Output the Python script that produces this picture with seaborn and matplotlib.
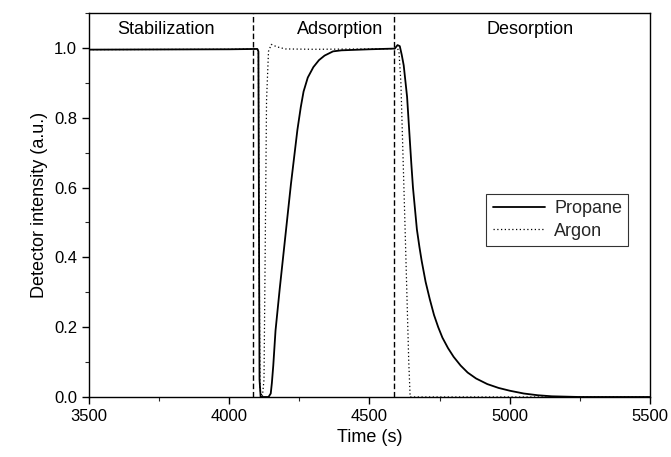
import pandas as pd
import seaborn as sns
import matplotlib.pyplot as plt
from matplotlib.ticker import MultipleLocator

# values
propane_time = [3500, 4000, 4100, 4104, 4106, 4108, 4112, 4125, 4140, 4148, 4152, 4157, 4165,
                4180, 4200, 4220, 4243, 4255, 4265, 4280, 4300, 4320, 4340, 4370, 4400, 4500,
                4590, 4600, 4608, 4615, 4622, 4634, 4649, 4655, 4662, 4669, 4678, 4686, 4700,
                4715, 4730, 4745, 4760, 4780, 4800, 4825, 4850, 4880, 4920, 4960, 5000, 5050,
                5100, 5150, 5250, 5500]
propane_signal = [0.995, 0.996, 0.997, 0.99, 0.5, 0.05, 0.0, 0.0, 0.0, 0.01, 0.04, 0.09, 0.19,
                  0.31, 0.46, 0.61, 0.765, 0.83, 0.875, 0.915, 0.945, 0.965, 0.978, 0.99, 0.993,
                  0.996, 0.998, 1.008, 1.005, 0.98, 0.95, 0.86, 0.67, 0.6, 0.54, 0.48, 0.43, 0.39,
                  0.33, 0.28, 0.235, 0.2, 0.17, 0.14, 0.115, 0.09, 0.07, 0.053, 0.037, 0.026,
                  0.018, 0.01, 0.005, 0.002, 0.0, 0.0]

argon_time = [3500, 4000, 4100, 4104, 4106, 4110, 4118, 4124, 4128, 4133, 4140, 4150, 4170,
              4200, 4300, 4500, 4600, 4605, 4612, 4627, 4640, 4645, 5500]
argon_signal = [0.995, 0.996, 0.997, 0.99, 0.5, 0.02, 0.0, 0.05, 0.4, 0.85, 0.99, 1.01, 1.003,
                0.997, 0.996, 0.997, 0.998, 0.99, 0.9, 0.48, 0.1, 0.0, 0.0]

phase_bounds = [4083, 4589]
phase_names = ['Stabilization', 'Adsorption', 'Desorption']
phase_centers = [3775, 4395, 5073]

df = pd.concat([
    pd.DataFrame({'Time': propane_time, 'Intensity': propane_signal, 'Gas': 'Propane'}),
    pd.DataFrame({'Time': argon_time, 'Intensity': argon_signal, 'Gas': 'Argon'}),
])

sns.set_style('ticks')
plt.rcParams['font.family'] = ['Liberation Sans', 'DejaVu Sans']

fig = plt.figure(figsize=(6.71, 4.57), dpi=100)
ax = fig.add_axes([0.1326, 0.1313, 0.8361, 0.8403])

sns.lineplot(data=df[df['Gas'] == 'Propane'], x='Time', y='Intensity', ax=ax,
             color='black', linewidth=1.3, label='Propane', estimator=None, sort=False)
sns.lineplot(data=df[df['Gas'] == 'Argon'], x='Time', y='Intensity', ax=ax,
             color='black', linewidth=0.9, linestyle=(0, (1, 2)), label='Argon',
             estimator=None, sort=False)

for xb in phase_bounds:
    ax.axvline(xb, color='black', linewidth=1.0, linestyle=(0, (4, 2)))

for name, xc in zip(phase_names, phase_centers):
    ax.text(xc, 1.053, name, ha='center', va='center', fontsize=13, color='black')

ax.set_xlim(3500, 5500)
ax.set_ylim(0, 1.1)
ax.xaxis.set_major_locator(MultipleLocator(500))
ax.xaxis.set_minor_locator(MultipleLocator(250))
ax.yaxis.set_major_locator(MultipleLocator(0.2))
ax.yaxis.set_minor_locator(MultipleLocator(0.1))
ax.tick_params(which='major', direction='out', length=5, width=1, labelsize=12, colors='black')
ax.tick_params(which='minor', direction='out', length=3, width=0.8)
ax.yaxis.set_major_formatter(plt.FuncFormatter(lambda v, p: f'{v:.1f}'))
for s in ax.spines.values():
    s.set_color('black')
    s.set_linewidth(1.0)

ax.set_xlabel('Time (s)', fontsize=13, color='black')
ax.set_ylabel('Detector intensity (a.u.)', fontsize=13, color='black')

leg = ax.legend(loc='center', bbox_to_anchor=(0.835, 0.461), fontsize=13, frameon=True,
                fancybox=False, handlelength=2.9, borderpad=0.35, labelspacing=0.3,
                handletextpad=0.5)
leg.get_frame().set_edgecolor('black')
leg.get_frame().set_linewidth(0.8)

fig.savefig('out.png', dpi=100)
